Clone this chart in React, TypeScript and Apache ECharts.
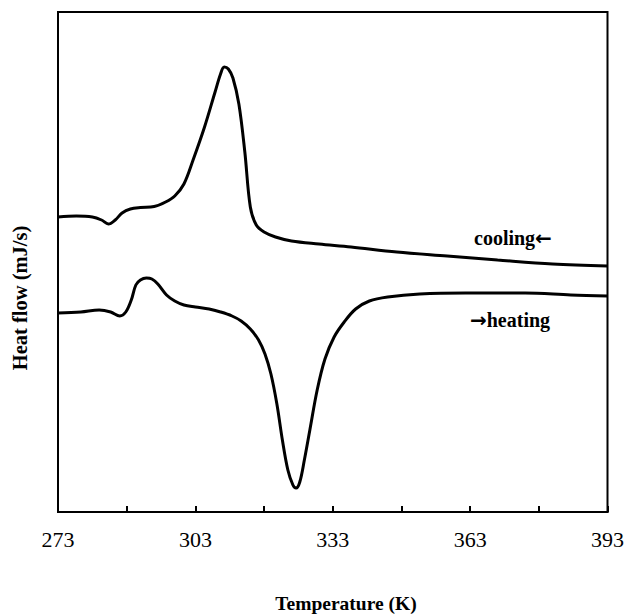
import React, { useEffect, useRef } from "react";
import * as echarts from "echarts";

const coolingT = [273, 277, 280.5, 282.5, 284, 285.5, 287, 288.8, 291, 294, 296.5, 298.5, 300.5, 302.5, 305, 307.3, 308.5, 309.3, 310.2, 311.2, 312.5, 313.8, 315, 316.3, 318, 320.5, 324, 330, 337, 347, 358, 369, 381, 393];
const coolingV = [295, 296, 295, 292, 288, 292, 299, 303, 304.5, 305.5, 310, 316, 328, 352, 385, 420, 438, 445, 443, 434, 408, 360, 305, 287, 280, 275, 271, 268, 265, 260, 256, 252, 248, 246];

const heatingT = [273, 278, 282, 284.5, 286.5, 287.8, 289, 290, 291, 292.3, 293.5, 294.8, 296.7, 298.5, 300.5, 303, 306, 308.5, 311, 313, 315, 316.8, 318.2, 319.5, 320.8, 322, 323.2, 324.3, 325, 325.8, 326.8, 328, 329.6, 331.3, 333.3, 335.5, 338, 341, 345, 352, 362, 375, 385, 393];
const heatingV = [199, 200, 202, 200, 196, 200, 212, 227, 232, 234, 233, 228, 217, 211, 207, 205, 203, 200, 196, 191, 183, 172, 158, 138, 108, 72, 42, 27, 24, 30, 52, 82, 122, 153, 175, 190, 203, 211, 215, 218, 219, 219, 217, 216];

const tickLabels = [273, 303, 333, 363, 393];

const xTitle = "Temperature (K)";
const yTitle = "Heat flow (mJ/s)";
const coolingWord = "cooling";
const heatingWord = "heating";
const leftArrow = "\u2190";
const rightArrow = "\u2192";

const serif = "'Liberation Serif', 'DejaVu Serif', serif";

export default function App() {
  const ref = useRef<HTMLDivElement>(null);
  useEffect(() => {
    if (!ref.current) return;
    const chart = echarts.init(ref.current, undefined, { renderer: "svg" });
    const cooling = coolingT.map((t, i) => [t, coolingV[i]]);
    const heating = heatingT.map((t, i) => [t, heatingV[i]]);
    const rich = {
      w: { fontFamily: serif, fontWeight: "bold", fontSize: 20, color: "#000" },
      a: { fontFamily: "'DejaVu Sans', sans-serif", fontWeight: "bold", fontSize: 20, color: "#000" },
    };
    chart.setOption({
      animation: false,
      backgroundColor: "#ffffff",
      grid: {
        left: 58,
        right: 17,
        top: 12,
        bottom: 104,
        show: true,
        borderColor: "#000",
        borderWidth: 2,
        backgroundColor: "transparent",
      },
      xAxis: {
        type: "value",
        min: 273,
        max: 393,
        interval: 15,
        axisLine: { show: true, lineStyle: { color: "#000", width: 2 } },
        axisTick: { show: true, inside: true, length: 6, lineStyle: { color: "#000", width: 2 } },
        splitLine: { show: false },
        axisLabel: {
          color: "#000",
          fontFamily: serif,
          fontSize: 22,
          margin: 16,
          formatter: (v: number) => (tickLabels.indexOf(v) >= 0 ? String(v) : ""),
        },
      },
      yAxis: {
        type: "value",
        min: 0,
        max: 500,
        axisLine: { show: true, lineStyle: { color: "#000", width: 2 } },
        axisTick: { show: false },
        axisLabel: { show: false },
        splitLine: { show: false },
      },
      series: [
        {
          type: "line",
          data: cooling,
          smooth: 0.35,
          showSymbol: false,
          lineStyle: { color: "#000", width: 3 },
        },
        {
          type: "line",
          data: heating,
          smooth: 0.35,
          showSymbol: false,
          lineStyle: { color: "#000", width: 3 },
        },
      ],
      graphic: [
        {
          type: "text",
          x: 346,
          y: 603,
          style: {
            text: xTitle,
            font: `bold 19.5px ${serif}`,
            fill: "#000",
            align: "center",
            verticalAlign: "middle",
          },
        },
        {
          type: "text",
          x: 20,
          y: 298,
          rotation: Math.PI / 2,
          style: {
            text: yTitle,
            font: `bold 20.5px ${serif}`,
            fill: "#000",
            align: "center",
            verticalAlign: "middle",
          },
        },
        {
          type: "text",
          x: 474,
          y: 238,
          style: {
            text: `{w|${coolingWord}}{a|${leftArrow}}`,
            rich,
            align: "left",
            verticalAlign: "middle",
          },
        },
        {
          type: "text",
          x: 470,
          y: 320,
          style: {
            text: `{a|${rightArrow}}{w|${heatingWord}}`,
            rich,
            align: "left",
            verticalAlign: "middle",
          },
        },
      ],
    });
    return () => chart.dispose();
  }, []);
  return <div ref={ref} style={{ width: 627, height: 616, position: "absolute", left: 0, top: 0 }} />;
}
